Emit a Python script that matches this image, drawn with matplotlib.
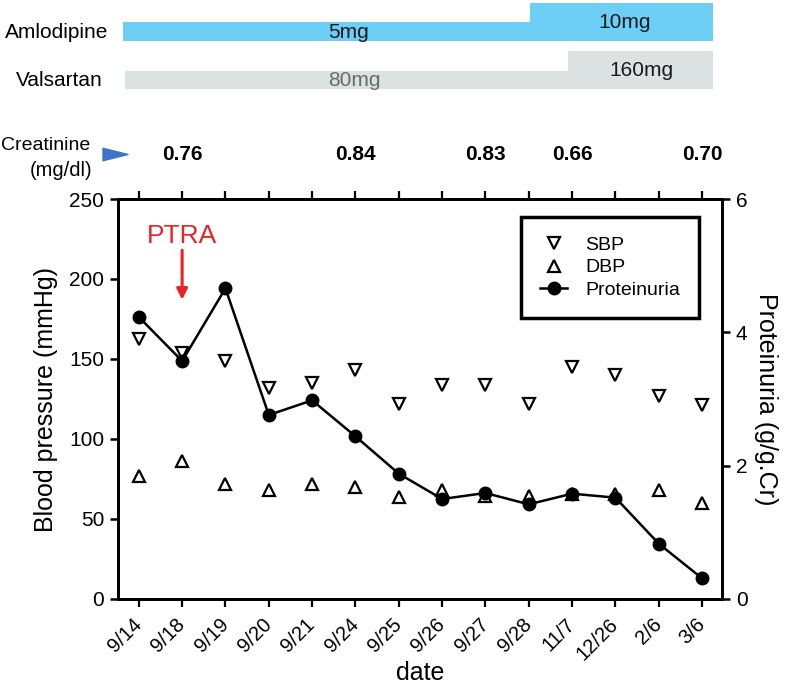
import matplotlib
matplotlib.use("Agg")
import matplotlib.pyplot as plt
from matplotlib.path import Path
import numpy as np

plt.rcParams['font.family'] = ['Liberation Sans', 'DejaVu Sans']

dates = ["9/14", "9/18", "9/19", "9/20", "9/21", "9/24", "9/25", "9/26",
         "9/27", "9/28", "11/7", "12/26", "2/6", "3/6"]
sbp = [162.5, 154, 149, 132, 135, 143, 122, 133.5, 133.5, 122, 145, 140, 127, 121]
dbp = [77, 86, 72, 68, 72, 70, 64, 68, 64.5, 64.5, 65.5, 65.5, 68, 60]
proteinuria = [4.23, 3.57, 4.66, 2.76, 2.98, 2.44, 1.88, 1.50, 1.59, 1.42, 1.58, 1.52, 0.83, 0.31]

creat_idx = [1, 5, 8, 10, 13]
creat_vals = ["0.76", "0.84", "0.83", "0.66", "0.70"]

# dose periods (x in date-index units)
aml_doses = ["5mg", "10mg"]
aml_start = [-0.37, 9.03]
aml_end = [13.25, 13.25]
val_doses = ["80mg", "160mg"]
val_start = [-0.32, 9.9]
val_end = [13.25, 13.25]

W, H = 789, 685
fig = plt.figure(figsize=(W / 100, H / 100), dpi=100)

L, R = 118 / W, 722 / W
ax = fig.add_axes([L, 1 - 599 / H, R - L, (599 - 199) / H])
x = np.arange(len(dates))
xlim = (-0.48, 13.46)

ax2 = ax.twinx()
l1, = ax.plot(x, sbp, linestyle='none', marker='v', markersize=8.5, markerfacecolor='white',
              markeredgecolor='black', markeredgewidth=1.6, label='SBP', zorder=3)
l2, = ax.plot(x, dbp, linestyle='none', marker='^', markersize=8.5, markerfacecolor='white',
              markeredgecolor='black', markeredgewidth=1.6, label='DBP', zorder=3)
l3, = ax2.plot(x, proteinuria, color='black', linewidth=1.8, marker='o', markersize=9,
               label='Proteinuria', zorder=4)

ax.set_xlim(*xlim)
ax.set_ylim(0, 250)
ax2.set_ylim(0, 6)
ax.set_yticks([0, 50, 100, 150, 200, 250])
ax2.set_yticks([0, 2, 4, 6])
ax.set_xticks(x)
ax.set_xticklabels(dates, rotation=45, ha='right', va='center', rotation_mode='anchor',
                   fontsize=14.5)
ax.tick_params(axis='x', which='both', top=True, direction='out', length=6, width=1.6, pad=10)
ax.tick_params(axis='y', labelsize=15, direction='out', length=6, width=1.8, pad=4)
ax2.tick_params(axis='y', labelsize=15, direction='out', length=6, width=1.8, pad=4)
for a in (ax, ax2):
    for s in a.spines.values():
        s.set_linewidth(2)

ax.set_ylabel("Blood pressure (mmHg)", fontsize=18, labelpad=8)
ax2.set_ylabel("Proteinuria (g/g.Cr)", fontsize=18, rotation=270, labelpad=22)
ax.set_xlabel("date", fontsize=18, labelpad=-2)

ax.text(1, 227, "PTRA", color='#e8232a', fontsize=19, ha='center', va='center')
ax.annotate("", xy=(1, 187), xytext=(1, 218),
            arrowprops=dict(arrowstyle='-|>', color='#e8232a', lw=2.2, mutation_scale=16,
                            shrinkA=0, shrinkB=0))

leg = ax2.legend([l1, l2, l3], ['SBP', 'DBP', 'Proteinuria'], loc='upper right',
                 bbox_to_anchor=(0.972, 0.97), fontsize=14, frameon=True, fancybox=False,
                 borderpad=1.0, handlelength=1.4, handletextpad=0.9, labelspacing=0.25,
                 borderaxespad=0.3)
leg.get_frame().set_edgecolor('black')
leg.get_frame().set_linewidth(2.5)
leg.get_frame().set_alpha(1)

# top panel: dosing and creatinine
top = fig.add_axes([L, 1 - 180 / H, R - L, 180 / H])
top.set_xlim(*xlim)
top.set_ylim(180, 0)
top.axis('off')

blue = '#6dcff6'
grey = '#dce2e2'
aml_top = [22, 3]
val_top = [71, 51]
for i in range(2):
    top.add_patch(plt.Rectangle((aml_start[i], aml_top[i]), aml_end[i] - aml_start[i],
                                41 - aml_top[i], color=blue, lw=0))
    top.add_patch(plt.Rectangle((val_start[i], val_top[i]), val_end[i] - val_start[i],
                                89 - val_top[i], color=grey, lw=0))
top.text(4.83, 33, aml_doses[0], fontsize=15, ha='center', va='center', color='#1a1a1a')
top.text(11.22, 23, aml_doses[1], fontsize=15, ha='center', va='center', color='#1a1a1a')
top.text(4.97, 80, val_doses[0], fontsize=15, ha='center', va='center', color='#6a6a6a')
top.text(11.6, 71, val_doses[1], fontsize=15, ha='center', va='center', color='#1a1a1a')

fig.text(5 / W, 1 - 32 / H, "Amlodipine", fontsize=15, ha='left', va='center')
fig.text(103 / W, 1 - 80 / H, "Valsartan", fontsize=15, ha='right', va='center')
fig.text(1 / W, 1 - 146 / H, "Creatinine", fontsize=14, ha='left', va='center')
fig.text(92 / W, 1 - 170 / H, "(mg/dl)", fontsize=14.5, ha='right', va='center')

arrow_marker = Path([(-1, -0.5), (1, 0), (-1, 0.5), (-1, -0.5)],
                    [Path.MOVETO, Path.LINETO, Path.LINETO, Path.CLOSEPOLY])
top.plot([-0.55], [154], marker=arrow_marker, markersize=18, color='#3f74c6',
         linestyle='none', clip_on=False)

for i, v in zip(creat_idx, creat_vals):
    top.text(x[i], 155, v, fontsize=15, fontweight='bold', ha='center', va='center')

fig.savefig("out.png", dpi=100)
